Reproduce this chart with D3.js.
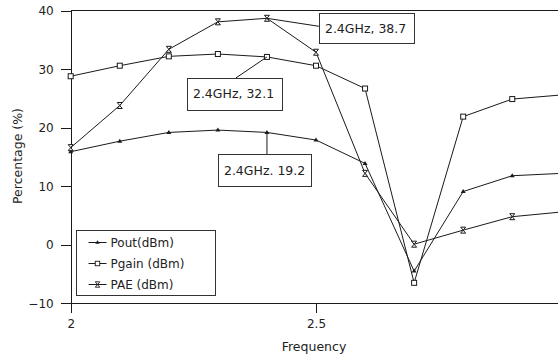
<!DOCTYPE html>
<html lang="en">
  <head>
    <meta charset="UTF-8" />
    <title>PA performance vs frequency</title>
    <style>
      body { margin: 0; background: #fff; }
      svg text { font-family: "DejaVu Sans", sans-serif; fill: #222; }
      .line { fill: none; stroke: #1a1a1a; stroke-width: 1px; }
      .axis path, .axis line { stroke: #1a1a1a; shape-rendering: crispEdges; }
    </style>
  </head>
  <body>
    <div id="wrapper"></div>
    <script src="https://d3js.org/d3.v7.min.js"></script>
    <script>
      // frequency points (GHz)
      var freqs = [2.0, 2.1, 2.2, 2.3, 2.4, 2.5, 2.6, 2.7, 2.8, 2.9, 3.0];
      var pout  = [15.9, 17.7, 19.2, 19.6, 19.2, 17.9, 13.9, -4.5, 9.1, 11.8, 12.2];
      var pgain = [28.8, 30.6, 32.2, 32.6, 32.1, 30.6, 26.7, -6.5, 21.9, 24.9, 25.6];
      var pae   = [16.6, 23.8, 33.4, 38.1, 38.7, 32.9, 12.2, 0.1, 2.5, 4.8, 5.6];
      var seriesNames = ["Pout(dBm)", "Pgain (dBm)", "PAE (dBm)"];
      var yTicks = [-10, 0, 10, 20, 30, 40];
      var xTicks = [2, 2.5];
      var annotations = [
        { f: 2.4, v: 38.7, text: "2.4GHz, 38.7" },
        { f: 2.4, v: 32.1, text: "2.4GHz, 32.1" },
        { f: 2.4, v: 19.2, text: "2.4GHz. 19.2" }
      ];

      var width = 558, height = 357;
      var margin = {top: 10.7, left: 70.7, bottom: 53.7};

      var svg = d3.select("#wrapper").append("svg")
          .attr("width", width)
          .attr("height", height);

      var x = d3.scaleLinear().domain([2, 3]).range([margin.left, margin.left + 490.6]);
      var y = d3.scaleLinear().domain([-10, 40]).range([height - margin.bottom, margin.top]);

      // top border
      svg.append("line")
          .attr("x1", x(2)).attr("x2", width)
          .attr("y1", y(40)).attr("y2", y(40))
          .attr("stroke", "#1a1a1a").attr("shape-rendering", "crispEdges");

      // axes
      var xAxis = svg.append("g")
          .attr("class", "axis")
          .attr("transform", "translate(0," + y(-10) + ")")
          .call(d3.axisBottom(x).tickValues(xTicks).tickFormat(d3.format("")).tickSizeOuter(0).tickSize(10).tickPadding(6));
      xAxis.selectAll("text").style("font-size", "12px");

      var yAxis = svg.append("g")
          .attr("class", "axis")
          .attr("transform", "translate(" + x(2) + ",0)")
          .call(d3.axisLeft(y).tickValues(yTicks).tickSizeOuter(0).tickSize(10).tickPadding(7));
      yAxis.selectAll("text").style("font-size", "12px");

      svg.append("text")
          .attr("x", x(2.5) - 2).attr("y", 351)
          .attr("text-anchor", "middle")
          .style("font-size", "12.5px")
          .text("Frequency");

      svg.append("text")
          .attr("transform", "translate(22,156) rotate(-90)")
          .attr("text-anchor", "middle")
          .style("font-size", "12.5px")
          .text("Percentage (%)");

      // markers
      function marker(g, type) {
        if (type === 0) {
          g.append("path").attr("d", "M0,-2.5L2.5,1.5L-2.5,1.5Z").attr("fill", "#1a1a1a");
        } else if (type === 1) {
          g.append("rect").attr("x", -2.5).attr("y", -2.5).attr("width", 5).attr("height", 5)
              .attr("fill", "#fff").attr("stroke", "#1a1a1a");
        } else {
          g.append("path").attr("d", "M-2.5,-3H2.5L0,0L2.5,3H-2.5L0,0Z")
              .attr("fill", "#fff").attr("stroke", "#1a1a1a");
        }
      }

      var valueline = d3.line()
          .x(function(d) { return x(d.f); })
          .y(function(d) { return y(d.v); });

      var plot = svg.append("g");

      [pout, pgain, pae].forEach(function(vals, i) {
        var data = freqs.map(function(f, j) { return {f: f, v: vals[j]}; });
        plot.append("path")
            .datum(data)
            .attr("class", "line")
            .attr("d", valueline);
        plot.selectAll(".m" + i)
            .data(data)
          .enter().append("g")
            .attr("class", "m" + i)
            .attr("transform", function(d) { return "translate(" + x(d.f) + "," + y(d.v) + ")"; })
            .each(function() { marker(d3.select(this), i); });
      });

      // data labels at 2.4 GHz
      var boxes = [
        {dx: 52, dy: -5, w: 95, h: 30, cx: 52, cy: 8},
        {dx: -80, dy: 21, w: 95, h: 32, cx: -31, cy: 21},
        {dx: -49, dy: 22, w: 93, h: 32, cx: 0, cy: 22}
      ];
      annotations.forEach(function(a, i) {
        var px = x(a.f), py = y(a.v), b = boxes[i];
        svg.append("line")
            .attr("x1", px).attr("y1", py)
            .attr("x2", px + b.cx).attr("y2", py + b.cy)
            .attr("stroke", "#1a1a1a");
        svg.append("rect")
            .attr("x", Math.round(px + b.dx) + 0.5).attr("y", Math.round(py + b.dy) + 0.5)
            .attr("width", b.w).attr("height", b.h)
            .attr("fill", "#fff").attr("stroke", "#333");
        svg.append("text")
            .attr("x", px + b.dx + 6).attr("y", py + b.dy + b.h / 2 + 4.5)
            .style("font-size", "12.5px")
            .text(a.text);
      });

      // legend
      var legend = svg.append("g").attr("transform", "translate(76.5,230.5)");
      legend.append("rect").attr("width", 139).attr("height", 65)
          .attr("fill", "#fff").attr("stroke", "#333");
      seriesNames.forEach(function(name, i) {
        var row = legend.append("g").attr("transform", "translate(0," + (12 + i * 21) + ")");
        row.append("line").attr("x1", 12).attr("x2", 30).attr("y1", 0).attr("y2", 0)
            .attr("stroke", "#1a1a1a");
        var m = row.append("g").attr("transform", "translate(21,0) scale(0.9)");
        marker(m, i);
        row.append("text").attr("x", 34).attr("y", 4.5)
            .style("font-size", "12px")
            .text(name);
      });
    </script>
  </body>
</html>
